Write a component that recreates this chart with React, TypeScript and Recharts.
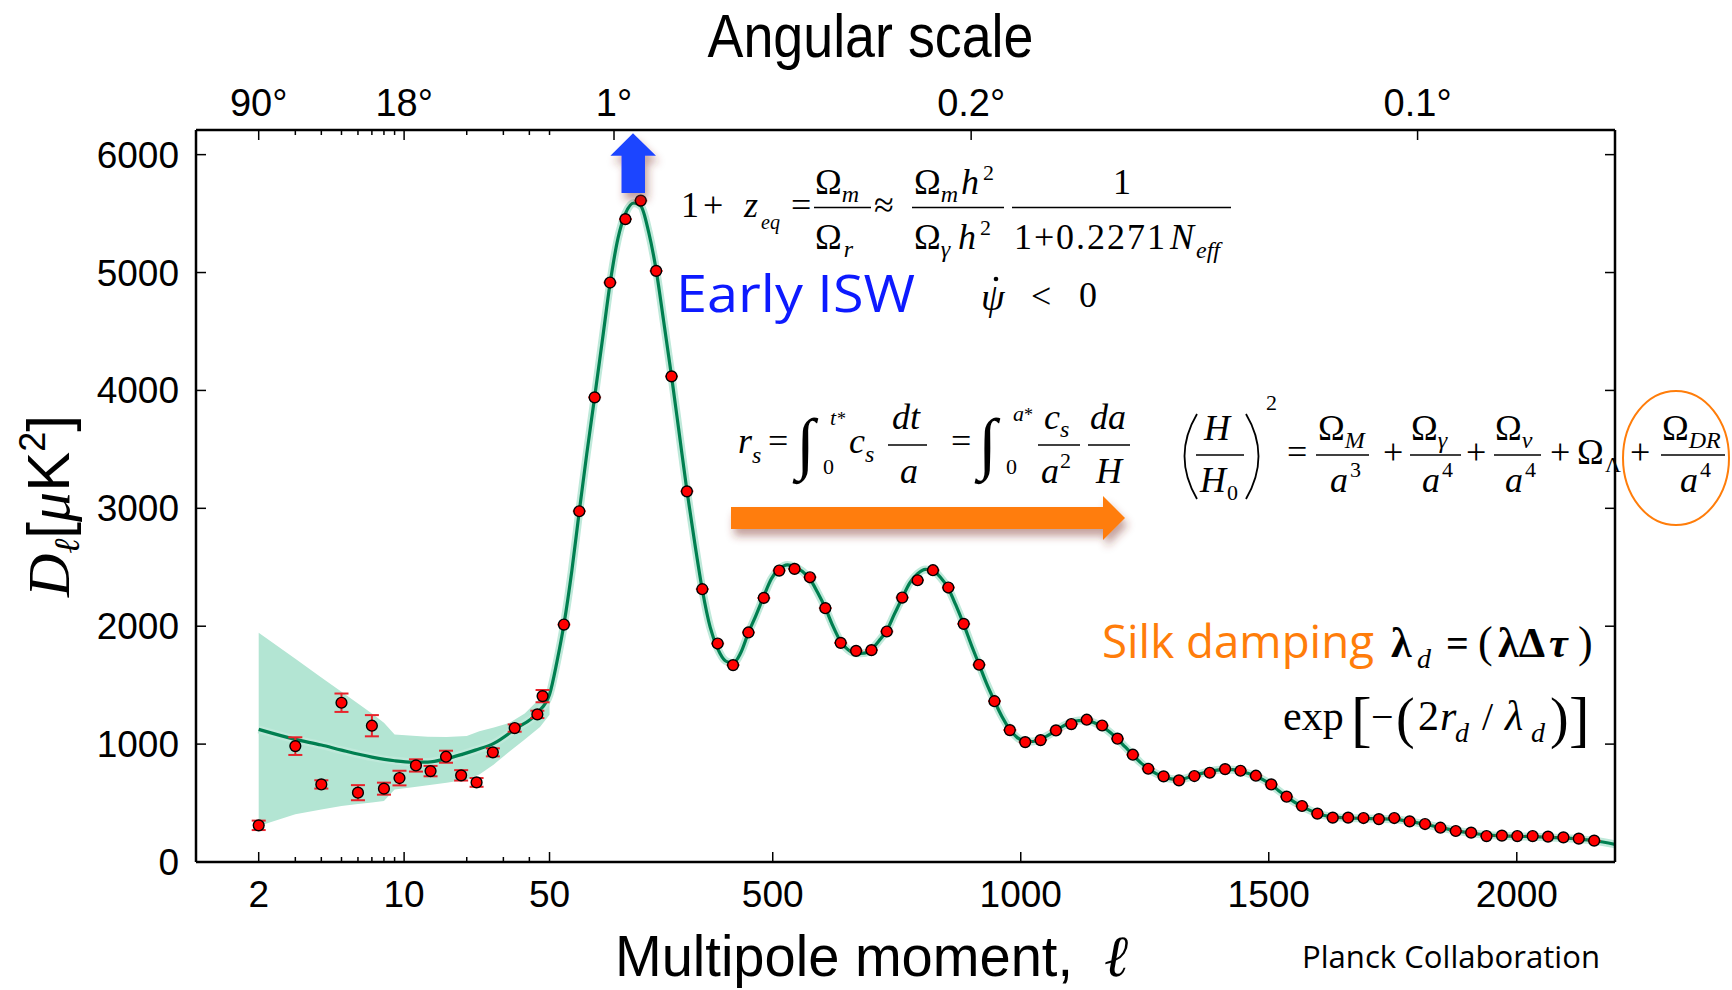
import { ComposedChart, Line, Area, Scatter, ErrorBar, XAxis, YAxis } from 'recharts'

// Planck TT spectrum: D_ell in muK^2. Low multipoles on a log axis, ell > 50 linear.
const lowEll = [2, 3, 4, 5, 6, 7, 8, 9.5, 11.4, 13.4, 15.9, 18.8, 22.3, 26.7, 34, 43.7, 46.3]
const lowDl = [311, 983, 658, 1351, 588, 1156, 622, 712, 819, 771, 893, 735, 675, 930, 1136, 1252, 1407]
const lowErr = [40, 75, 35, 78, 64, 90, 51, 62, 52, 44, 51, 44, 37, 34, 31, 31, 52]

const binEll = [
  79, 110, 141, 172, 203, 234, 265, 296, 327, 358, 389, 420, 451, 482, 513, 544, 575, 606, 637, 668,
  699, 730, 761, 792, 823, 854, 885, 916, 947, 978, 1009, 1040, 1071, 1102, 1133, 1164, 1195, 1226,
  1257, 1288, 1319, 1350, 1381, 1412, 1443, 1474, 1505, 1536, 1567, 1598, 1629, 1660, 1691, 1722,
  1753, 1784, 1815, 1846, 1877, 1908, 1939, 1970, 2001, 2032, 2063, 2094, 2125, 2156,
]
const binDl = [
  2014, 2975, 3941, 4915, 5453, 5610, 5014, 4119, 3144, 2314, 1853, 1670, 1947, 2240, 2472, 2486, 2415,
  2153, 1859, 1791, 1797, 1955, 2243, 2390, 2475, 2328, 2020, 1673, 1364, 1119, 1017, 1034, 1116, 1170,
  1207, 1158, 1046, 910, 791, 726, 692, 729, 757, 788, 774, 732, 658, 554, 475, 410, 376, 376, 373, 364,
  373, 345, 322, 291, 263, 249, 220, 224, 220, 220, 215, 209, 198, 181,
]
const BIN_HALF_WIDTH = 13

// best-fit LCDM curve
const theoryEll = [
  2, 3, 4, 5, 7, 9, 11, 13, 16, 19, 22, 27, 34, 44, 50, 65, 79, 95, 110, 125, 141, 157, 172, 188, 203, 220,
  234, 250, 265, 280, 296, 312, 327, 343, 358, 374, 389, 405, 420, 435, 451, 466, 482, 497, 513, 530, 544,
  560, 575, 590, 606, 621, 637, 652, 668, 684, 699, 714, 730, 745, 761, 776, 792, 808, 823, 838, 854, 869,
  885, 900, 916, 931, 947, 962, 978, 993, 1009, 1024, 1040, 1055, 1071, 1086, 1102, 1117, 1133, 1148, 1164,
  1180, 1195, 1210, 1226, 1241, 1257, 1272, 1288, 1303, 1319, 1334, 1350, 1365, 1381, 1396, 1412, 1427,
  1443, 1458, 1474, 1489, 1505, 1520, 1536, 1551, 1567, 1582, 1598, 1629, 1660, 1691, 1722, 1753, 1784,
  1815, 1846, 1877, 1908, 1939, 1970, 2001, 2032, 2063, 2094, 2125, 2156, 2198,
]
const theoryDl = [
  1125, 1040, 992, 949, 890, 859, 847, 848, 876, 913, 949, 1006, 1125, 1271, 1421, 1700, 2014, 2470, 2975,
  3460, 3945, 4440, 4905, 5290, 5500, 5590, 5565, 5340, 5020, 4590, 4120, 3620, 3150, 2700, 2310, 1990,
  1810, 1705, 1685, 1770, 1945, 2090, 2255, 2400, 2485, 2520, 2505, 2465, 2400, 2290, 2155, 2005, 1870,
  1800, 1770, 1772, 1805, 1875, 1965, 2100, 2240, 2365, 2445, 2482, 2470, 2415, 2320, 2180, 2015, 1845,
  1675, 1515, 1365, 1235, 1125, 1055, 1025, 1022, 1040, 1075, 1115, 1155, 1185, 1200, 1200, 1182, 1150,
  1100, 1043, 978, 908, 845, 792, 752, 722, 705, 700, 712, 732, 752, 768, 780, 786, 783, 772, 752, 727,
  697, 656, 605, 555, 510, 472, 440, 412, 383, 374, 370, 366, 362, 345, 320, 292, 266, 246, 230, 222, 218,
  215, 210, 204, 194, 180, 150,
]

// cosmic-variance band at low ell
const bandEll = [2, 3, 4, 5, 6, 7, 8, 9, 11, 13, 16, 20, 23, 27, 32, 38, 45, 50]
const bandHi = [1944, 1725, 1565, 1445, 1345, 1260, 1181, 1082, 1070, 1062, 1060, 1068, 1110, 1140, 1180, 1260, 1390, 1480]
const bandLo = [305, 404, 445, 475, 492, 505, 517, 616, 635, 650, 672, 700, 743, 828, 935, 1040, 1145, 1250]

const bottomTickEll = [2, 3, 4, 5, 6, 7, 8, 9, 10, 20, 30, 40, 50, 500, 1000, 1500, 2000]
const bottomLabels: Record<number, string> = { 2: '2', 10: '10', 50: '50', 500: '500', 1000: '1000', 1500: '1500', 2000: '2000' }
const topTickEll = [2, 3, 4, 5, 6, 7, 8, 9, 10, 20, 30, 40, 50, 180, 900, 1800]
const topLabels: Record<number, string> = { 2: '90°', 10: '18°', 180: '1°', 900: '0.2°', 1800: '0.1°' }
const yTicks = [0, 1000, 2000, 3000, 4000, 5000, 6000]

// hybrid axis: log10 below ell=50, linear above
const SPLIT = 50
const PER_DECADE = 419.4
const lToX = (l: number) => (l <= SPLIT ? SPLIT - PER_DECADE * Math.log10(SPLIT / l) : l)
const xOf = (d: any) => lToX(d.l)
const X_DOMAIN = [-662.7, 2198]
const Y_DOMAIN = [0, 6209]

const lowData = lowEll.map((l, i) => ({ l, d: lowDl[i], e: lowErr[i] }))
const binData = binEll.map((l, i) => ({ l, d: binDl[i], dx: BIN_HALF_WIDTH }))
const theoryData = theoryEll.map((l, i) => ({ l, d: theoryDl[i] }))
const bandData = bandEll.map((l, i) => ({ l, lo: bandLo[i], hi: bandHi[i] }))

const sans = "'Liberation Sans', Arial, sans-serif"
const serif = "'Liberation Serif', 'Times New Roman', serif"
const hand = "'Open Sans', sans-serif"
const ORANGE = '#ff7d0a'
const BLUE = '#0d1aff'

const nearest = (list: number[], u: number) =>
  list.reduce((a, b) => (Math.abs(lToX(b) - u) < Math.abs(lToX(a) - u) ? b : a))

function BottomTick(p: any) {
  const l = nearest(bottomTickEll, p.payload.value)
  const label = bottomLabels[l]
  return (
    <g>
      <line x1={p.x} x2={p.x} y1={p.y} y2={p.y - (label ? 10 : 5)} stroke="#000" strokeWidth={1.5} />
      {label && (
        <text x={p.x} y={p.y + 45} textAnchor="middle" fontSize={37} fontFamily={sans}>
          {label}
        </text>
      )}
    </g>
  )
}

function TopTick(p: any) {
  const l = nearest(topTickEll, p.payload.value)
  const label = topLabels[l]
  return (
    <g>
      <line x1={p.x} x2={p.x} y1={p.y} y2={p.y + (label ? 10 : 5)} stroke="#000" strokeWidth={1.5} />
      {label && (
        <text x={p.x} y={p.y - 14} textAnchor="middle" fontSize={38} fontFamily={sans}>
          {label}
        </text>
      )}
    </g>
  )
}

function LeftTick(p: any) {
  return (
    <g>
      <line x1={p.x} x2={p.x + 10} y1={p.y} y2={p.y} stroke="#000" strokeWidth={1.5} />
      <text x={p.x - 17} y={p.y + 13} textAnchor="end" fontSize={37} fontFamily={sans}>
        {p.payload.value}
      </text>
    </g>
  )
}

function RightTick(p: any) {
  return <line x1={p.x} x2={p.x - 10} y1={p.y} y2={p.y} stroke="#000" strokeWidth={1.5} />
}

const PointDot = (p: any) => <circle cx={p.cx} cy={p.cy} r={5.4} fill="#ff0000" stroke="#000" strokeWidth={1.4} />

// math text helpers
function T({ x, y, s = 36, i = false, b = false, children }: any) {
  return (
    <text x={x} y={y} fontSize={s} fontFamily={serif} fontStyle={i ? 'italic' : 'normal'} fontWeight={b ? 'bold' : 'normal'}>
      {children}
    </text>
  )
}
// symbol with a subscript in one text run
function S({ x, y, base, sub, s = 36, ss = 24, bi = false, dy = 8, dx = 0 }: any) {
  return (
    <text x={x} y={y} fontSize={s} fontFamily={serif} fontStyle={bi ? 'italic' : 'normal'}>
      {base}
      <tspan fontSize={ss} fontStyle="italic" dx={dx} dy={dy}>{sub}</tspan>
    </text>
  )
}
const Rule = ({ x1, x2, y }: any) => <line x1={x1} x2={x2} y1={y} y2={y} stroke="#000" strokeWidth={1.6} />

function Annotations() {
  return (
    <svg width={1732} height={990} style={{ position: 'absolute', left: 0, top: 0, pointerEvents: 'none' }}>
      <defs>
        <filter id="arrowShadow" x="-10%" y="-40%" width="130%" height="220%">
          <feDropShadow dx="3" dy="7" stdDeviation="4" floodColor="#7b2a20" floodOpacity="0.45" />
        </filter>
      </defs>

      {/* axis titles */}
      <text x={870.5} y={57} textAnchor="middle" fontSize={61} fontFamily={sans} textLength={326} lengthAdjust="spacingAndGlyphs">
        Angular scale
      </text>
      <text x={615} y={976} fontSize={58} fontFamily={sans} textLength={458} lengthAdjust="spacingAndGlyphs">
        Multipole moment,
      </text>
      <text x={1104} y={976} fontSize={58} fontFamily={serif} fontStyle="italic">ℓ</text>
      <text transform="translate(69,597) rotate(-90)" fontSize={60} fontFamily={sans}>
        <tspan fontFamily={serif} fontStyle="italic">D</tspan>
        <tspan fontSize={36} fontFamily={serif} fontStyle="italic" dy={10}>ℓ</tspan>
        <tspan dy={-10}>[</tspan>
        <tspan fontFamily={serif} fontStyle="italic">μ</tspan>
        <tspan>K</tspan>
        <tspan fontSize={36} dy={-24}>2</tspan>
        <tspan dy={24}>]</tspan>
      </text>

      {/* arrows */}
      <path d="M621.5,193 L621.5,155.7 L610.4,155.7 L633,133.3 L656,155.7 L645,155.7 L645,193 Z" fill="#1a45ff" filter="url(#arrowShadow)" />
      <path d="M731,507 L1103,507 L1103,496 L1125,518 L1103,540 L1103,529 L731,529 Z" fill={ORANGE} filter="url(#arrowShadow)" />
      <ellipse cx={1676} cy={458} rx={53} ry={67} fill="none" stroke={ORANGE} strokeWidth={2} />

      {/* 1 + z_eq */}
      <T x={681} y={217}>1</T>
      <T x={703} y={217}>+</T>
      <S x={744} y={217} base="z" sub="eq" bi ss={20} dx={3} dy={12} />
      <T x={791} y={217}>=</T>
      <S x={815} y={194} base="Ω" sub="m" />
      <Rule x1={814} x2={871} y={207.5} />
      <S x={815} y={249} base="Ω" sub="r" dx={2} />
      <T x={874} y={217}>≈</T>
      <S x={914} y={194} base="Ω" sub="m" />
      <T x={961} y={194} i>h</T>
      <T x={983} y={180} s={22}>2</T>
      <Rule x1={912} x2={1004} y={207.5} />
      <S x={914} y={249} base="Ω" sub="γ" />
      <T x={958} y={249} i>h</T>
      <T x={980} y={235} s={22}>2</T>
      <T x={1113} y={194}>1</T>
      <Rule x1={1012} x2={1231} y={207.5} />
      <T x={1014} y={249}>1</T>
      <T x={1034} y={249}>+</T>
      <text x={1056} y={249} fontSize={36} fontFamily={serif} letterSpacing={2}>0.2271</text>
      <S x={1170} y={249} base="N" sub="eff" bi dy={9} dx={2} />

      {/* Early ISW */}
      <text x={676} y={312} fontSize={52} fontFamily={hand} fill={BLUE} textLength={239} lengthAdjust="spacingAndGlyphs">
        Early ISW
      </text>
      <T x={981} y={310} s={38} i>ψ</T>
      <circle cx={996} cy={279} r={2.3} fill="#000" />
      <T x={1031} y={308}>{'<'}</T>
      <T x={1079} y={307}>0</T>

      {/* sound horizon */}
      <S x={738} y={453} base="r" sub="s" bi dy={10} />
      <T x={768} y={453}>=</T>
      <T x={796} y={466} s={68}>∫</T>
      <T x={830} y={425} s={22} i>t</T>
      <T x={837} y={425} s={18}>*</T>
      <T x={823} y={474} s={22}>0</T>
      <S x={849} y={453} base="c" sub="s" bi dy={9} />
      <T x={892} y={429} i>dt</T>
      <Rule x1={888} x2={927} y={445} />
      <T x={900} y={483} i>a</T>
      <T x={951} y={453}>=</T>
      <T x={978} y={466} s={68}>∫</T>
      <T x={1013} y={421} s={22} i>a</T>
      <T x={1024} y={421} s={18}>*</T>
      <T x={1006} y={474} s={22}>0</T>
      <S x={1044} y={429} base="c" sub="s" bi dy={8} />
      <Rule x1={1038} x2={1080} y={445} />
      <T x={1041} y={483} i>a</T>
      <T x={1060} y={468} s={22}>2</T>
      <T x={1090} y={429} i>da</T>
      <Rule x1={1088} x2={1130} y={445} />
      <T x={1096} y={483} i>H</T>

      {/* Friedmann equation */}
      <path d="M1197,414 Q1172,456 1197,499" fill="none" stroke="#000" strokeWidth={1.8} />
      <path d="M1246,414 Q1271,456 1246,499" fill="none" stroke="#000" strokeWidth={1.8} />
      <T x={1204} y={440} i>H</T>
      <Rule x1={1196} x2={1244} y={455} />
      <T x={1200} y={492} i>H</T>
      <T x={1227} y={500} s={22}>0</T>
      <T x={1266} y={410} s={22}>2</T>
      <T x={1287} y={464}>=</T>
      <S x={1318} y={440} base="Ω" sub="M" />
      <Rule x1={1316} x2={1369} y={455} />
      <T x={1330} y={492} i>a</T>
      <T x={1350} y={477} s={22}>3</T>
      <T x={1383} y={464}>+</T>
      <S x={1411} y={440} base="Ω" sub="γ" />
      <Rule x1={1410} x2={1461} y={455} />
      <T x={1422} y={492} i>a</T>
      <T x={1442} y={477} s={22}>4</T>
      <T x={1466} y={464}>+</T>
      <S x={1495} y={440} base="Ω" sub="ν" />
      <Rule x1={1494} x2={1541} y={455} />
      <T x={1505} y={492} i>a</T>
      <T x={1525} y={477} s={22}>4</T>
      <T x={1550} y={464}>+</T>
      <T x={1577} y={464}>Ω</T>
      <T x={1605} y={472} s={22}>Λ</T>
      <T x={1630} y={464}>+</T>
      <S x={1662} y={440} base="Ω" sub="DR" />
      <Rule x1={1661} x2={1725} y={455} />
      <T x={1680} y={492} i>a</T>
      <T x={1700} y={477} s={22}>4</T>

      {/* Silk damping */}
      <text x={1102} y={658} fontSize={46} fontFamily={hand} fill={ORANGE} textLength={272} lengthAdjust="spacingAndGlyphs">
        Silk damping
      </text>
      <T x={1391} y={657} s={42} b>λ</T>
      <T x={1417} y={668} s={28} i>d</T>
      <T x={1446} y={657} s={40} b>=</T>
      <T x={1478} y={657} s={44}>(</T>
      <T x={1498} y={657} s={42} b>λΔ</T>
      <T x={1549} y={657} s={42} b i>τ</T>
      <T x={1578} y={657} s={44}>)</T>
      <T x={1283} y={730} s={42}>exp</T>
      <T x={1351} y={740} s={62}>[</T>
      <T x={1371} y={730} s={40}>−</T>
      <T x={1396} y={737} s={56}>(</T>
      <T x={1418} y={730} s={42}>2</T>
      <T x={1440} y={730} s={42} i>r</T>
      <T x={1455} y={742} s={28} i>d</T>
      <T x={1482} y={730} s={40}>/</T>
      <T x={1505} y={730} s={42} i>λ</T>
      <T x={1531} y={742} s={28} i>d</T>
      <T x={1550} y={737} s={56}>)</T>
      <T x={1569} y={740} s={62}>]</T>

      <text x={1302} y={968} fontSize={31} fontFamily={hand} textLength={298} lengthAdjust="spacingAndGlyphs">
        Planck Collaboration
      </text>
    </svg>
  )
}

export default function App() {
  const axisLine = { stroke: '#000', strokeWidth: 2.5 }
  return (
    <div style={{ position: 'absolute', left: 0, top: 0, width: 1732, height: 990, background: '#fff' }}>
      <ComposedChart width={1732} height={990} margin={{ top: 0, right: 0, bottom: 0, left: 0 }}>
        <XAxis
          xAxisId="b"
          orientation="bottom"
          type="number"
          dataKey={xOf}
          domain={X_DOMAIN}
          allowDataOverflow
          ticks={bottomTickEll.map(lToX)}
          interval={0}
          tickSize={0}
          tickMargin={0}
          tickLine={false}
          tick={(p: any) => <BottomTick {...p} />}
          axisLine={axisLine}
          height={128}
        />
        <XAxis
          xAxisId="t"
          orientation="top"
          type="number"
          dataKey={xOf}
          domain={X_DOMAIN}
          allowDataOverflow
          ticks={topTickEll.map(lToX)}
          interval={0}
          tickSize={0}
          tickMargin={0}
          tickLine={false}
          tick={(p: any) => <TopTick {...p} />}
          axisLine={axisLine}
          height={130}
        />
        <YAxis
          yAxisId="l"
          type="number"
          domain={Y_DOMAIN}
          allowDataOverflow
          ticks={yTicks}
          interval={0}
          tickSize={0}
          tickMargin={0}
          tickLine={false}
          tick={(p: any) => <LeftTick {...p} />}
          axisLine={axisLine}
          width={196}
        />
        <YAxis
          yAxisId="r"
          orientation="right"
          type="number"
          domain={Y_DOMAIN}
          allowDataOverflow
          ticks={yTicks}
          interval={0}
          tickSize={0}
          tickMargin={0}
          tickLine={false}
          tick={(p: any) => <RightTick {...p} />}
          axisLine={axisLine}
          width={117}
        />

        <Area
          xAxisId="b"
          yAxisId="l"
          data={bandData}
          dataKey={(d: any) => [d.lo, d.hi]}
          type="linear"
          stroke="none"
          fill="#b3e5d3"
          fillOpacity={1}
          isAnimationActive={false}
        />
        <Line
          xAxisId="b"
          yAxisId="l"
          data={theoryData}
          dataKey="d"
          type="monotone"
          stroke="#bfe9da"
          strokeWidth={8}
          dot={false}
          activeDot={false}
          isAnimationActive={false}
        />
        <Line
          xAxisId="b"
          yAxisId="l"
          data={theoryData}
          dataKey="d"
          type="monotone"
          stroke="#007f50"
          strokeWidth={3.2}
          dot={false}
          activeDot={false}
          isAnimationActive={false}
        />
        <Scatter xAxisId="b" yAxisId="l" data={lowData} dataKey="d" shape={PointDot} isAnimationActive={false}>
          <ErrorBar dataKey="e" direction="y" width={7} stroke="#e8232b" strokeWidth={2} isAnimationActive={false} />
        </Scatter>
        <Scatter xAxisId="b" yAxisId="l" data={binData} dataKey="d" shape={PointDot} isAnimationActive={false}>
          <ErrorBar dataKey="dx" direction="x" width={0} stroke="#ff2020" strokeWidth={2} isAnimationActive={false} />
        </Scatter>
      </ComposedChart>
      <Annotations />
    </div>
  )
}
